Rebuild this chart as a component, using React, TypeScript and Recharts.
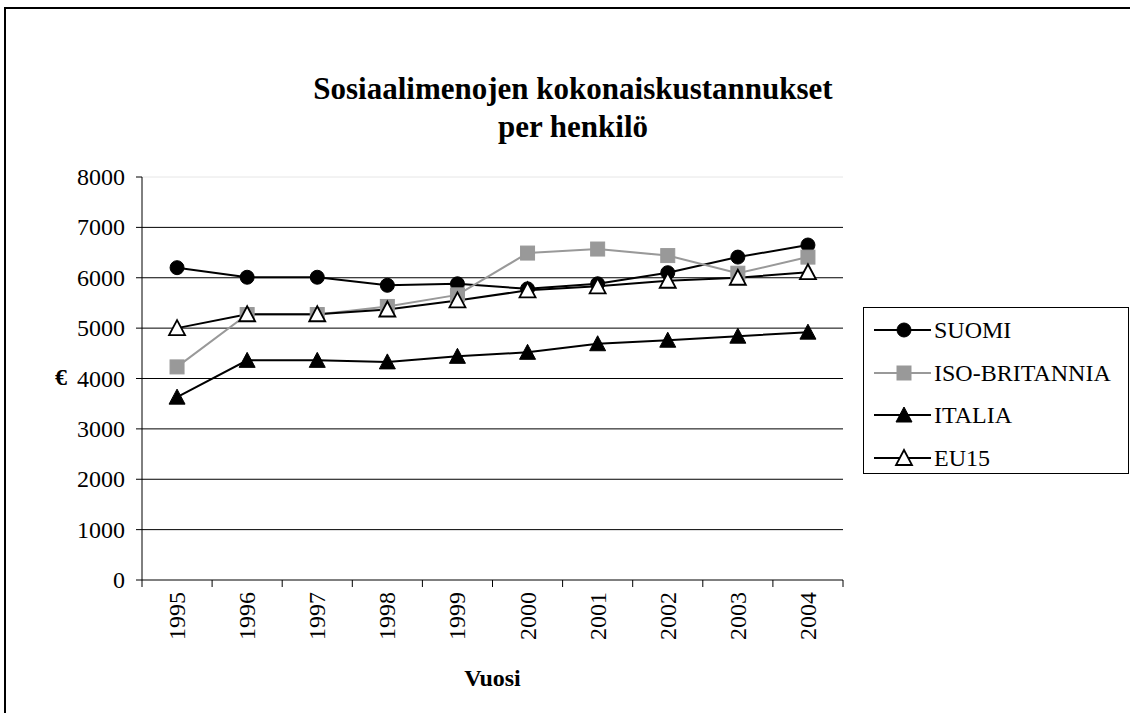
import React from 'react';
import { LineChart, Line, XAxis, YAxis, ReferenceLine } from 'recharts';

const years = ['1995', '1996', '1997', '1998', '1999', '2000', '2001', '2002', '2003', '2004'];
const suomi = [6200, 6010, 6010, 5850, 5880, 5780, 5880, 6100, 6410, 6650];
const isoBritannia = [4230, 5270, 5270, 5430, 5660, 6490, 6570, 6440, 6090, 6410];
const italia = [3630, 4360, 4360, 4330, 4440, 4520, 4690, 4760, 4840, 4920];
const eu15 = [5000, 5275, 5275, 5370, 5550, 5750, 5830, 5940, 6000, 6110];
const yTicks = [0, 1000, 2000, 3000, 4000, 5000, 6000, 7000, 8000];

const seriesNames = ['SUOMI', 'ISO-BRITANNIA', 'ITALIA', 'EU15'];

const data = years.map((y, i) => ({
  year: y,
  SUOMI: suomi[i],
  'ISO-BRITANNIA': isoBritannia[i],
  ITALIA: italia[i],
  EU15: eu15[i],
}));

const FONT = '"Liberation Serif", "Times New Roman", serif';

const Marker = ({ kind, cx, cy }: { kind: string; cx: number; cy: number }) => {
  if (kind === 'SUOMI') return <circle cx={cx} cy={cy} r={7} fill="#000" stroke="#000" strokeWidth={1} />;
  if (kind === 'ISO-BRITANNIA')
    return <rect x={cx - 7} y={cy - 7} width={14} height={14} fill="#999" stroke="#999" strokeWidth={1} />;
  const pts = `${cx},${cy - 8} ${cx + 8},${cy + 7} ${cx - 8},${cy + 7}`;
  if (kind === 'ITALIA') return <polygon points={pts} fill="#000" stroke="#000" strokeWidth={1} />;
  return <polygon points={pts} fill="#fff" stroke="#000" strokeWidth={1.8} />;
};

const makeDot = (kind: string) => (props: any) => {
  const { cx, cy, index } = props;
  if (cx == null || cy == null) return <g key={`${kind}-${index}`} />;
  return (
    <g key={`${kind}-${index}`}>
      <Marker kind={kind} cx={cx} cy={cy} />
    </g>
  );
};

const XTick = (props: any) => {
  const { x, y, payload, index, visibleTicksCount } = props;
  const half = payload && typeof payload.offset === 'number' && payload.offset > 0 ? payload.offset : 35;
  const ty = y + 12;
  const last = index === (visibleTicksCount ? visibleTicksCount - 1 : years.length - 1);
  return (
    <g>
      <line x1={x - half} y1={y} x2={x - half} y2={y + 7} stroke="#000" strokeWidth={1} />
      {last && <line x1={x + half} y1={y} x2={x + half} y2={y + 7} stroke="#000" strokeWidth={1} />}
      <text
        x={x}
        y={ty}
        transform={`rotate(-90, ${x}, ${ty})`}
        textAnchor="end"
        dominantBaseline="central"
        style={{ fontFamily: FONT, fontSize: 24 }}
        fill="#000"
      >
        {payload.value}
      </text>
    </g>
  );
};

const YTick = (props: any) => {
  const { x, y, payload } = props;
  return (
    <text x={x} y={y} textAnchor="end" dominantBaseline="central" style={{ fontFamily: FONT, fontSize: 24 }} fill="#000">
      {payload.value}
    </text>
  );
};

const colors: Record<string, string> = {
  SUOMI: '#000',
  'ISO-BRITANNIA': '#999',
  ITALIA: '#000',
  EU15: '#000',
};

export default function App() {
  return (
    <div style={{ position: 'absolute', left: 0, top: 0, width: 1130, height: 713, overflow: 'hidden', background: '#fff', fontFamily: FONT }}>
      <div style={{ position: 'absolute', left: 4, top: 7, width: 1200, height: 800, border: '2px solid #000', boxSizing: 'border-box' }} />
      <div style={{ position: 'absolute', left: 0, top: 0 }}>
        <LineChart width={1130} height={713} data={data} margin={{ top: 177, right: 287, bottom: 73, left: 0 }}>
          {yTicks.filter((v) => v > 0 && v < 8000).map((v) => (
            <ReferenceLine key={v} y={v} stroke="#000" strokeWidth={1} />
          ))}
          <ReferenceLine y={8000} stroke="#e6e6e6" strokeWidth={1} />
          <XAxis
            dataKey="year"
            scale="band"
            height={60}
            interval={0}
            tickLine={false}
            tickSize={0}
            tickMargin={0}
            tick={<XTick />}
            axisLine={{ stroke: '#000', strokeWidth: 1 }}
          />
          <YAxis
            width={142}
            domain={[0, 8000]}
            ticks={yTicks}
            interval={0}
            tickSize={6}
            tickMargin={11}
            axisLine={{ stroke: '#000', strokeWidth: 1 }}
            tickLine={{ stroke: '#000', strokeWidth: 1 }}
            tick={<YTick />}
          />
          {seriesNames.map((name) => (
            <Line
              key={name}
              type="linear"
              dataKey={name}
              stroke={colors[name]}
              strokeWidth={2}
              dot={makeDot(name)}
              activeDot={false}
              isAnimationActive={false}
            />
          ))}
        </LineChart>
      </div>
      <div style={{ position: 'absolute', left: 0, width: 1146, top: 70, textAlign: 'center', fontWeight: 'bold', fontSize: 31, lineHeight: '38px', color: '#000' }}>
        Sosiaalimenojen kokonaiskustannukset
        <br />
        per henkilö
      </div>
      <div style={{ position: 'absolute', left: 55, top: 362, fontWeight: 'bold', fontSize: 24, lineHeight: '30px' }}>€</div>
      <div style={{ position: 'absolute', left: 142, width: 701, top: 663, textAlign: 'center', fontWeight: 'bold', fontSize: 24, lineHeight: '30px' }}>
        Vuosi
      </div>
      <div style={{ position: 'absolute', left: 863, top: 307, width: 266, height: 167, border: '1px solid #000', boxSizing: 'border-box', background: '#fff' }}>
        {seriesNames.map((name, i) => (
          <div key={name} style={{ position: 'absolute', left: 0, top: 1 + i * 42.5, height: 42.5, display: 'flex', alignItems: 'center' }}>
            <svg width={70} height={30} style={{ display: 'block' }}>
              <line x1={10} y1={15} x2={67} y2={15} stroke={colors[name]} strokeWidth={2} />
              <Marker kind={name} cx={40} cy={15} />
            </svg>
            <span style={{ fontSize: 24, lineHeight: '30px', color: '#000', whiteSpace: 'nowrap' }}>{name}</span>
          </div>
        ))}
      </div>
    </div>
  );
}
